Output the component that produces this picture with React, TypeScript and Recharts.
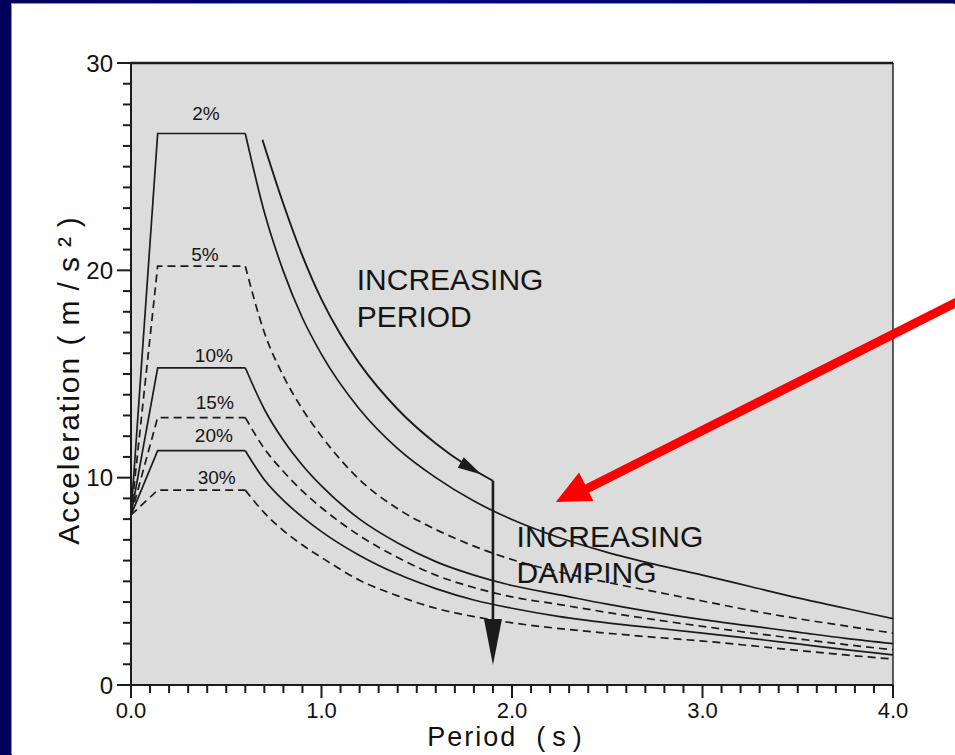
import React from "react";
import { ComposedChart, Line, XAxis, YAxis, CartesianGrid, ReferenceLine, ReferenceDot } from "recharts";

// periods (s) where the ramp meets the flat top, and where the decay is sampled
const rampPeriods = [0, 0.14, 0.6];
const decayPeriods = [0.6, 0.7, 0.8, 0.9, 1.0, 1.2, 1.4, 1.6, 1.8, 2.0, 2.25, 2.5, 2.75, 3.0, 3.25, 3.5, 3.75, 4.0];

// spectral acceleration (m/s²) per damping ratio
const ramp2 = [8.2, 26.6, 26.6];
const decay2 = [26.6, 22.8, 19.95, 17.7, 15.95, 13.3, 11.4, 10.0, 8.87, 7.98, 7.1, 6.4, 5.82, 5.3, 4.75, 4.2, 3.7, 3.2];
const ramp5 = [8.2, 20.2, 20.2];
const decay5 = [20.2, 17.0, 14.9, 13.3, 12.0, 9.9, 8.5, 7.5, 6.7, 6.05, 5.45, 4.95, 4.5, 4.05, 3.6, 3.2, 2.85, 2.5];
const ramp10 = [8.2, 15.3, 15.3];
const decay10 = [15.3, 13.3, 11.8, 10.6, 9.6, 8.0, 6.85, 5.95, 5.3, 4.8, 4.35, 3.9, 3.5, 3.15, 2.85, 2.55, 2.25, 2.0];
const ramp15 = [8.2, 12.9, 12.9];
const decay15 = [12.9, 11.4, 10.3, 9.35, 8.55, 7.2, 6.15, 5.3, 4.7, 4.25, 3.88, 3.5, 3.15, 2.83, 2.52, 2.23, 1.95, 1.7];
const ramp20 = [8.2, 11.3, 11.3];
const decay20 = [11.3, 9.9, 8.9, 8.1, 7.4, 6.25, 5.35, 4.65, 4.1, 3.7, 3.3, 3.0, 2.75, 2.5, 2.25, 1.98, 1.71, 1.45];
const ramp30 = [8.2, 9.4, 9.4];
const decay30 = [9.4, 8.3, 7.45, 6.75, 6.15, 5.05, 4.3, 3.7, 3.3, 3.0, 2.72, 2.5, 2.3, 2.12, 1.9, 1.67, 1.45, 1.25];

// the 2% curve moved to a longer period
const shiftedPeriods = [0.69, 0.8, 0.9, 1.0, 1.1, 1.2, 1.4, 1.6, 1.76, 1.9];
const shifted2 = [26.3, 23.2, 20.7, 18.6, 16.9, 15.5, 13.3, 11.65, 10.6, 9.85];

const dampingNames = ["2%", "5%", "10%", "15%", "20%", "30%"];
const labelSpots = [
  { x: 0.393, y: 27.6 },
  { x: 0.388, y: 20.8 },
  { x: 0.435, y: 15.9 },
  { x: 0.44, y: 13.65 },
  { x: 0.435, y: 12.06 },
  { x: 0.45, y: 10.03 },
];

const yMajor = [0, 10, 20, 30];
const xMajor = [0, 1, 2, 3, 4];
const yTicks = Array.from({ length: 31 }, (_, i) => i);
const xTicks = Array.from({ length: 41 }, (_, i) => i / 10);

const toRows = (periods: number[], values: number[]) => periods.map((p, i) => ({ period: p, acc: values[i] }));

const curves = [
  { ramp: ramp2, decay: decay2, dashed: false },
  { ramp: ramp5, decay: decay5, dashed: true },
  { ramp: ramp10, decay: decay10, dashed: false },
  { ramp: ramp15, decay: decay15, dashed: true },
  { ramp: ramp20, decay: decay20, dashed: false },
  { ramp: ramp30, decay: decay30, dashed: true },
];

const INK = "#1b1b1b";
const SANS = "'Liberation Sans', Arial, sans-serif";

const YTick = (props: any) => {
  const { x, y, payload } = props;
  const major = yMajor.includes(payload.value);
  const len = major ? 14 : 8;
  return (
    <g>
      <line x1={x} x2={x - len} y1={y} y2={y} stroke={INK} strokeWidth={2} />
      {major && (
        <text x={x - len - 4} y={y} textAnchor="end" dominantBaseline="central" fontSize={24} fill="#111">
          {payload.value}
        </text>
      )}
    </g>
  );
};

const XTick = (props: any) => {
  const { x, y, payload } = props;
  const v = payload.value;
  const major = xMajor.some((m) => Math.abs(m - v) < 1e-6);
  const len = major ? 13 : 8;
  return (
    <g>
      <line x1={x} x2={x} y1={y} y2={y + len} stroke={INK} strokeWidth={2} />
      {major && (
        <text x={x} y={y + 25} textAnchor="middle" dominantBaseline="central" fontSize={22} fill="#111">
          {v.toFixed(1)}
        </text>
      )}
    </g>
  );
};

const xTitle = (props: any) => {
  const vb = props.viewBox || { x: 119, y: 681, width: 762, height: 70 };
  return (
    <text x={vb.x + vb.width / 2 - 4} y={vb.y + 52} textAnchor="middle" dominantBaseline="central"
      fontSize={27} fill="#111" style={{ whiteSpace: "pre" }}>
      <tspan letterSpacing={2}>{"Period  "}</tspan>
      <tspan letterSpacing={7}>(s)</tspan>
    </text>
  );
};

const yTitle = (props: any) => {
  const vb = props.viewBox || { x: 0, y: 59, width: 119, height: 622 };
  const cx = vb.x + 56;
  const cy = vb.y + vb.height / 2 + 2;
  return (
    <text x={cx} y={cy} transform={`rotate(-90 ${cx} ${cy})`} textAnchor="middle" dominantBaseline="central"
      fontSize={30} fill="#111" style={{ whiteSpace: "pre" }}>
      <tspan letterSpacing={2}>{"Acceleration "}</tspan>
      <tspan letterSpacing={10}>(m/s²)</tspan>
    </text>
  );
};

// arrow head drawn at the tip, pointing along angle (screen degrees)
function headShape(angleDeg: number, len: number, half: number, fill: string) {
  return (p: any) => {
    const a = (angleDeg * Math.PI) / 180;
    const dx = Math.cos(a);
    const dy = Math.sin(a);
    const bx = p.cx - dx * len;
    const by = p.cy - dy * len;
    const pts = [
      [p.cx, p.cy],
      [bx - dy * half, by + dx * half],
      [bx + dy * half, by - dx * half],
    ];
    return <polygon points={pts.map((q) => q.join(",")).join(" ")} fill={fill} />;
  };
}

function textShape(lines: string[], size: number, anchor: "start" | "middle", gap: number, central = false) {
  return (p: any) => (
    <text x={p.cx} y={p.cy} fontSize={size} textAnchor={anchor} fill="#151515"
      dominantBaseline={central ? "central" : "auto"}>
      {lines.map((l, i) => (
        <tspan key={i} x={p.cx} dy={i === 0 ? 0 : gap}>
          {l}
        </tspan>
      ))}
    </text>
  );
}

export default function App() {
  return (
    <div
      style={{
        position: "fixed",
        left: 0,
        top: 0,
        width: 955,
        height: 755,
        overflow: "hidden",
        background: "linear-gradient(90deg, #00005c 0%, #06067e 45%, #00005c 100%)",
        fontFamily: SANS,
      }}
    >
      <div
        style={{
          position: "absolute",
          left: 12,
          top: 4,
          width: 943,
          height: 751,
          background: "#ffffff",
          boxShadow: "-1px -1px 0 #8c8cc4",
        }}
      >
        <ComposedChart width={943} height={751} margin={{ top: 59, right: 62, left: 0, bottom: 0 }}>
          <CartesianGrid fill="#dcdcdc" stroke="none" horizontal={false} vertical={false} />
          <XAxis
            dataKey="period"
            type="number"
            domain={[0, 4]}
            allowDataOverflow
            ticks={xTicks}
            interval={0}
            height={70}
            tickSize={0}
            tickMargin={0}
            tick={<XTick />}
            axisLine={{ stroke: INK, strokeWidth: 2 }}
            label={xTitle}
          />
          <YAxis
            type="number"
            domain={[0, 30]}
            allowDataOverflow
            ticks={yTicks}
            interval={0}
            width={119}
            tickSize={0}
            tickMargin={0}
            tick={<YTick />}
            axisLine={{ stroke: INK, strokeWidth: 2 }}
            label={yTitle}
          />
          <ReferenceLine y={30} stroke={INK} strokeWidth={2.6} />
          <ReferenceLine x={4} stroke={INK} strokeWidth={1.4} />

          {curves.map((c, i) => (
            <Line
              key={`r${i}`}
              data={toRows(rampPeriods, c.ramp)}
              dataKey="acc"
              type="linear"
              stroke={INK}
              strokeWidth={1.7}
              strokeDasharray={c.dashed ? "8 5" : undefined}
              dot={false}
              activeDot={false}
              isAnimationActive={false}
            />
          ))}
          {curves.map((c, i) => (
            <Line
              key={`d${i}`}
              data={toRows(decayPeriods, c.decay)}
              dataKey="acc"
              type="monotone"
              stroke={INK}
              strokeWidth={1.7}
              strokeDasharray={c.dashed ? "8 5" : undefined}
              dot={false}
              activeDot={false}
              isAnimationActive={false}
            />
          ))}
          <Line
            data={toRows(shiftedPeriods, shifted2)}
            dataKey="acc"
            type="monotone"
            stroke={INK}
            strokeWidth={1.9}
            dot={false}
            activeDot={false}
            isAnimationActive={false}
          />

          {dampingNames.map((n, i) => (
            <ReferenceDot key={n} x={labelSpots[i].x} y={labelSpots[i].y} r={1}
              shape={textShape([n], 19, "middle", 0, true)} />
          ))}

          <ReferenceDot x={1.185} y={19.05} r={1} shape={textShape(["INCREASING", "PERIOD"], 30, "start", 37)} />
          <ReferenceDot x={2.024} y={6.66} r={1} shape={textShape(["INCREASING", "DAMPING"], 30, "start", 36)} />

          {/* increasing period / increasing damping arrows */}
          <ReferenceDot x={1.84} y={10.15} r={1} shape={headShape(30, 24, 6, INK)} />
          <ReferenceLine segment={[{ x: 1.9, y: 9.85 }, { x: 1.9, y: 2.5 }]} stroke={INK} strokeWidth={2.6} />
          <ReferenceDot x={1.9} y={0.96} r={1} shape={headShape(90, 46, 9, INK)} />

          {/* red pointer */}
          <ReferenceLine
            segment={[{ x: 4.4, y: 18.77 }, { x: 2.39, y: 9.45 }]}
            stroke="#ff0000"
            strokeWidth={9}
            ifOverflow="visible"
          />
          <ReferenceDot x={2.23} y={8.83} r={1} ifOverflow="visible" shape={headShape(153.4, 34, 16, "#ff0000")} />
        </ComposedChart>
      </div>
    </div>
  );
}
